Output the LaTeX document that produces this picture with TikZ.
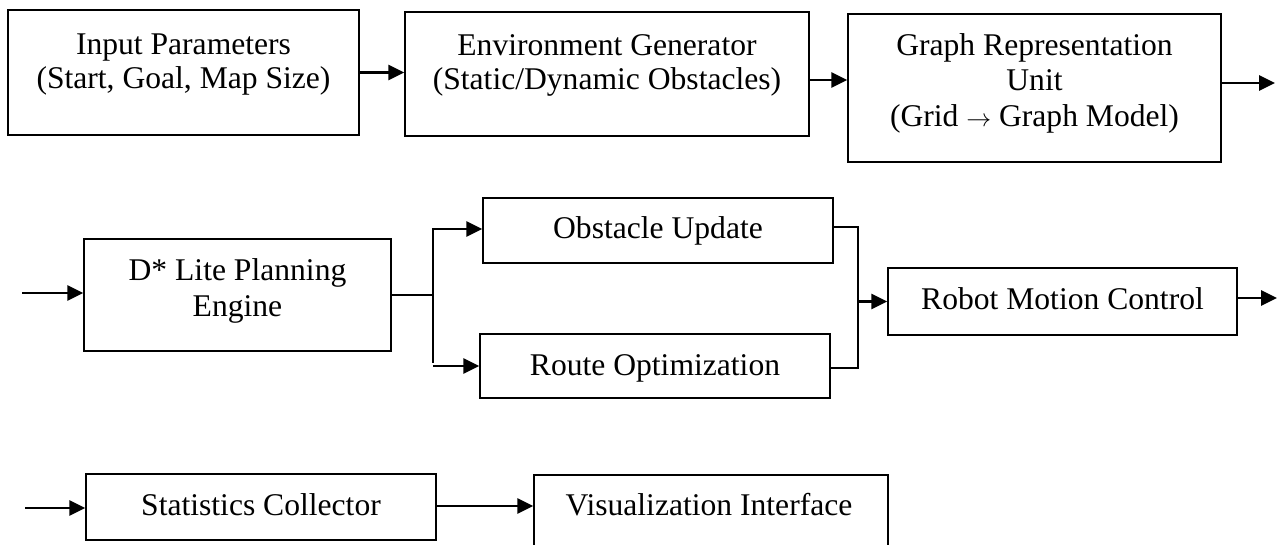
\documentclass[tikz,border=0pt]{standalone}
\usepackage{fontspec}
\setmainfont{Liberation Serif}
\usetikzlibrary{arrows.meta}
\begin{document}
\begin{tikzpicture}[x=1pt,y=-1pt,
  box/.style={draw, line width=1.4pt, inner sep=0pt, minimum width=#1},
  txt/.style={align=center, inner sep=0pt, anchor=base, font=\fontsize{31.6}{34}\selectfont},
  arr/.style={line width=2.8pt, -{Triangle[length=16pt,width=15pt]}},
  thin/.style={line width=1.3pt}]
\clip (0,0) rectangle (1284,544);
\fill[white] (0,0) rectangle (1284,544);
% row 1
\node[box=351pt, minimum height=125pt] (b1) at (183.5,72.5) {};
\node[txt] (t1) at (183.5,88.5) {Input Parameters\\(Start, Goal, Map Size)};
\node[box=404pt, minimum height=124pt] (b2) at (607,74) {};
\node[txt] (t2) at (607,89) {Environment Generator\\(Static/Dynamic Obstacles)};
\node[box=373pt, minimum height=148pt] (b3) at (1034.5,88) {};
\node[txt, font=\fontsize{31.6}{35.5}\selectfont] (t3) at (1034.5,126) {Graph Representation\\Unit\\(Grid $\rightarrow$ Graph Model)};
\coordinate (o3) at (1275,83);
\draw[arr] (b1.east) -- (b1.east -| b2.west);
\draw[arr] ([yshift=-6pt]b2.east) -- ([yshift=-6pt]b2.east -| b3.west);
\draw[arr] (b3.east |- o3) -- (o3);
% row 2
\node[box=307pt, minimum height=112pt] (b4) at (237.5,295) {};
\node[txt, font=\fontsize{31.6}{36.7}\selectfont] (t4) at (237.5,316.7) {D* Lite Planning\\Engine};
\node[box=350pt, minimum height=65pt] (b5) at (658,230.5) {};
\node[txt] (t5) at (658,238.5) {Obstacle Update};
\node[box=350pt, minimum height=64pt] (b6) at (655,366) {};
\node[txt] (t6) at (655,375) {Route Optimization};
\node[box=349pt, minimum height=67pt] (b7) at (1062.5,301.5) {};
\node[txt] (t7) at (1062.5,309.3) {Robot Motion Control};
\coordinate (i4) at (22,293);
\coordinate (s1) at (433,228);
\coordinate (s2) at (433,363);
\coordinate (j1) at (858,227);
\coordinate (j2) at (858,368);
\coordinate (o7) at (1277,298);
\draw[arr] (i4) -- (i4 -| b4.west);
\draw[thin] (b4.east) -- (b4.east -| s1);
\draw[thin] (s1) -- (s2);
\draw[arr] ([yshift=-1pt]s1) -- ([yshift=-1pt]s1 -| b5.west);
\draw[arr] ([yshift=-3pt]s2) -- ([yshift=-3pt]s2 -| b6.west);
\draw[thin] (j1 -| b5.east) -- (j1) -- (j2) -- (j2 -| b6.east);
\draw[arr] (j1 |- b7.west) -- (b7.west);
\draw[arr] (b7.east |- o7) -- (o7);
% row 3
\node[box=350pt, minimum height=66pt] (b8) at (261,507) {};
\node[txt] (t8) at (261,515) {Statistics Collector};
\node[box=354pt, minimum height=90pt] (b9) at (711,520) {};
\node[txt] (t9) at (709,515) {Visualization Interface};
\coordinate (i8) at (25,508);
\draw[arr] (i8) -- (i8 -| b8.west);
\draw[arr] ([yshift=1pt]b8.east) -- ([yshift=1pt]b8.east -| b9.west);
\end{tikzpicture}
\end{document}
